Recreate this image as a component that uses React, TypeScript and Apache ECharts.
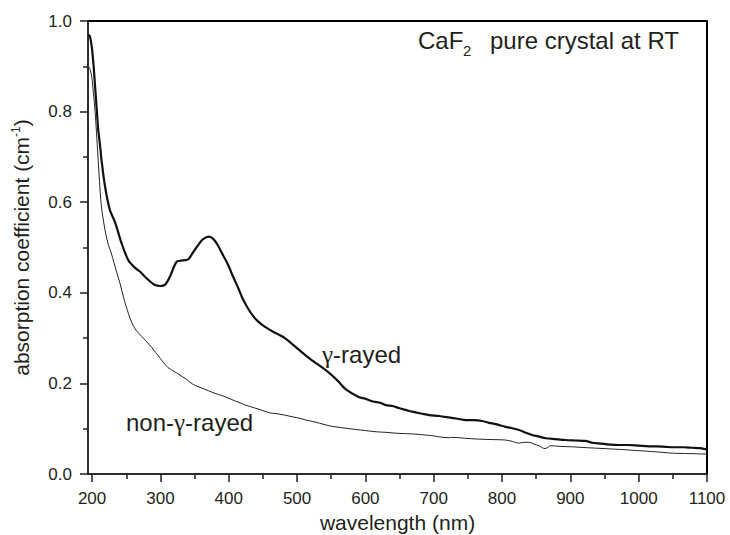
import { useEffect, useRef } from "react";
import * as echarts from "echarts";

// γ-irradiated CaF2 crystal: wavelength (nm) and absorption coefficient (cm⁻¹)
const wavelengthRayed = [
  195, 197, 199.5, 202, 204.4, 207, 209, 212, 214, 219, 226, 234, 243, 253, 263, 270, 277, 285,
  292, 300, 307, 314, 320, 324, 330, 336, 341, 346, 350, 356, 362, 371, 378, 384, 392, 399, 406,
  414, 421, 428, 435, 442, 452, 465, 482, 503, 520, 543, 560, 572, 590, 600, 611, 622, 630, 640,
  650, 660, 670, 683, 693, 708, 722, 735, 747, 760, 771, 781, 791, 805, 815, 825, 835, 844, 853,
  864, 878, 893, 907, 922, 932, 945, 958, 971, 985, 1000, 1015, 1027, 1039, 1052, 1065, 1078,
  1090, 1100,
];
const absorptionRayed = [
  0.97, 0.965, 0.943, 0.905, 0.855, 0.8, 0.76, 0.72, 0.69, 0.634, 0.583, 0.554, 0.51, 0.472,
  0.455, 0.447, 0.436, 0.425, 0.417, 0.415, 0.418, 0.436, 0.458, 0.469, 0.471, 0.472, 0.474,
  0.485, 0.494, 0.507, 0.518, 0.524, 0.518, 0.505, 0.482, 0.462, 0.437, 0.41, 0.385, 0.366, 0.35,
  0.338, 0.326, 0.314, 0.3, 0.274, 0.253, 0.228, 0.205, 0.186, 0.17, 0.166, 0.16, 0.157, 0.152,
  0.15, 0.145, 0.141, 0.137, 0.133, 0.13, 0.128, 0.125, 0.122, 0.119, 0.119, 0.117, 0.113, 0.11,
  0.104, 0.101, 0.097, 0.091, 0.086, 0.083, 0.079, 0.077, 0.075, 0.074, 0.073, 0.069, 0.067,
  0.065, 0.064, 0.064, 0.0625, 0.061, 0.061, 0.06, 0.059, 0.059, 0.058, 0.057, 0.054,
];

// non-irradiated CaF2 crystal
const wavelengthPristine = [
  195, 197, 199.5, 202, 204.4, 207, 209, 213, 216, 220, 224, 228, 236, 241, 246, 253, 258, 263,
  270, 275, 281, 287, 293, 300, 305, 311, 318, 325, 336, 343, 350, 360, 370, 380, 390, 396, 405,
  415, 423, 431, 446, 460, 471, 482, 494, 504, 513, 523, 533, 543, 552, 562, 572, 582, 593, 605,
  617, 630, 645, 660, 673, 688, 700, 708, 722, 727, 745, 766, 785, 805, 815, 825, 832, 839, 847,
  854, 859, 863, 867, 871, 885, 903, 925, 951, 975, 1000, 1025, 1049, 1075, 1100,
];
const absorptionPristine = [
  0.899, 0.893, 0.877, 0.84, 0.8, 0.74, 0.69, 0.6, 0.565, 0.53, 0.505, 0.488, 0.445, 0.42, 0.39,
  0.355, 0.335, 0.32, 0.308, 0.3, 0.29, 0.28, 0.268, 0.255, 0.245, 0.235, 0.228, 0.222, 0.211,
  0.203, 0.196, 0.19, 0.184, 0.178, 0.173, 0.17, 0.164, 0.158, 0.153, 0.149, 0.142, 0.135, 0.133,
  0.13, 0.126, 0.123, 0.119, 0.116, 0.112, 0.108, 0.105, 0.103, 0.101, 0.099, 0.097, 0.095,
  0.093, 0.092, 0.09, 0.089, 0.088, 0.086, 0.084, 0.082, 0.08, 0.081, 0.079, 0.077, 0.076, 0.075,
  0.072, 0.068, 0.07, 0.07, 0.066, 0.0625, 0.058, 0.056, 0.059, 0.0625, 0.061, 0.06, 0.058,
  0.056, 0.054, 0.0515, 0.049, 0.046, 0.045, 0.044,
];

const xMajorTicks = [200, 300, 400, 500, 600, 700, 800, 900, 1000, 1100];
const xMinorTicks = [250, 350, 450, 550, 650, 750, 850, 950, 1050];

const X_MIN = 194;
const X_MAX = 1100;
const Y_MIN = 0;
const Y_MAX = 1;

const INK = "#231f20";
const FONT = '"Liberation Sans", Arial, Helvetica, sans-serif';
const GREEK_FONT = '"Liberation Serif", "DejaVu Serif", serif';

const WIDTH = 730;
const HEIGHT = 535;
const GRID = { left: 88, top: 21, right: 23, bottom: 61 };

const zip = (xs: number[], ys: number[]) => xs.map((x, i) => [x, ys[i]]);

export default function App() {
  const ref = useRef<HTMLDivElement>(null);

  useEffect(() => {
    if (!ref.current) return;
    const chart = echarts.init(ref.current, undefined, { renderer: "svg" });
    const axisLineStyle = { color: INK, width: 1.5 };
    const greek = { g: { fontFamily: GREEK_FONT, fontSize: 25, color: INK } };

    chart.setOption({
      animation: false,
      backgroundColor: "#ffffff",
      grid: {
        ...GRID,
        outerBoundsMode: "none",
        containLabel: false,
        show: true,
        borderColor: INK,
        borderWidth: 1.5,
        backgroundColor: "rgba(255,255,255,0)",
      },
      xAxis: [
        {
          type: "value",
          min: X_MIN,
          max: X_MAX,
          position: "bottom",
          axisLine: { show: true, onZero: false, lineStyle: axisLineStyle },
          axisTick: { show: true, length: 8, customValues: xMajorTicks, lineStyle: axisLineStyle },
          axisLabel: {
            customValues: xMajorTicks,
            formatter: (v: number) => String(v),
            fontSize: 17,
            color: INK,
            fontFamily: FONT,
            margin: 16,
          },
          splitLine: { show: false },
          name: "wavelength (nm)",
          nameLocation: "middle",
          nameGap: 38,
          nameTextStyle: { fontSize: 21, color: INK, fontFamily: FONT },
        },
        {
          type: "value",
          min: X_MIN,
          max: X_MAX,
          position: "bottom",
          axisLine: { show: false, onZero: false },
          axisTick: { show: true, length: 5, customValues: xMinorTicks, lineStyle: axisLineStyle },
          axisLabel: { show: false },
          splitLine: { show: false },
        },
      ],
      yAxis: {
        type: "value",
        min: Y_MIN,
        max: Y_MAX,
        interval: 0.2,
        position: "left",
        axisLine: { show: true, onZero: false, lineStyle: axisLineStyle },
        axisTick: { show: true, length: 8, lineStyle: axisLineStyle },
        minorTick: { show: true, splitNumber: 2, length: 5, lineStyle: axisLineStyle },
        minorSplitLine: { show: false },
        splitLine: { show: false },
        axisLabel: {
          formatter: (v: number) => v.toFixed(1),
          fontSize: 17,
          color: INK,
          fontFamily: FONT,
          margin: 16,
        },
        name: "absorption coefficient (cm{sup|-1})",
        nameLocation: "middle",
        nameGap: 56,
        nameRotate: 90,
        nameTextStyle: {
          fontSize: 21,
          color: INK,
          fontFamily: FONT,
          rich: {
            sup: { fontSize: 12, color: INK, fontFamily: FONT, padding: [0, 0, 10, 0] },
          },
        },
      },
      series: [
        {
          // top and right sides of the plot box, traced along the axis extents
          name: "frame",
          type: "line",
          data: [
            [X_MIN, Y_MAX],
            [X_MAX, Y_MAX],
            [X_MAX, Y_MIN],
          ],
          showSymbol: false,
          silent: true,
          clip: false,
          z: 5,
          lineStyle: { color: "#000000", width: 2 },
        },
        {
          name: "γ-rayed",
          type: "line",
          data: zip(wavelengthRayed, absorptionRayed),
          showSymbol: false,
          smooth: 0.3,
          lineStyle: { color: "#111111", width: 2.2 },
        },
        {
          name: "non-γ-rayed",
          type: "line",
          data: zip(wavelengthPristine, absorptionPristine),
          showSymbol: false,
          smooth: 0.3,
          lineStyle: { color: "#222222", width: 1 },
        },
      ],
      graphic: [
        {
          type: "text",
          x: 418,
          y: 40,
          style: { text: "CaF", fill: INK, font: `24px ${FONT}`, verticalAlign: "middle" },
        },
        {
          type: "text",
          x: 463,
          y: 50,
          style: { text: "2", fill: INK, font: `15px ${FONT}`, verticalAlign: "middle" },
        },
        {
          type: "text",
          x: 490,
          y: 40,
          style: {
            text: "pure crystal at RT",
            fill: INK,
            font: `24px ${FONT}`,
            verticalAlign: "middle",
          },
        },
        {
          type: "text",
          x: 322,
          y: 354,
          style: {
            text: "{g|γ}-rayed",
            rich: greek,
            fill: INK,
            font: `24px ${FONT}`,
            verticalAlign: "middle",
          },
        },
        {
          type: "text",
          x: 126,
          y: 422,
          style: {
            text: "non-{g|γ}-rayed",
            rich: greek,
            fill: INK,
            font: `24px ${FONT}`,
            verticalAlign: "middle",
          },
        },
      ],
    });

    return () => chart.dispose();
  }, []);

  return (
    <div
      ref={ref}
      style={{ width: WIDTH, height: HEIGHT, position: "absolute", left: 0, top: 0 }}
    />
  );
}
